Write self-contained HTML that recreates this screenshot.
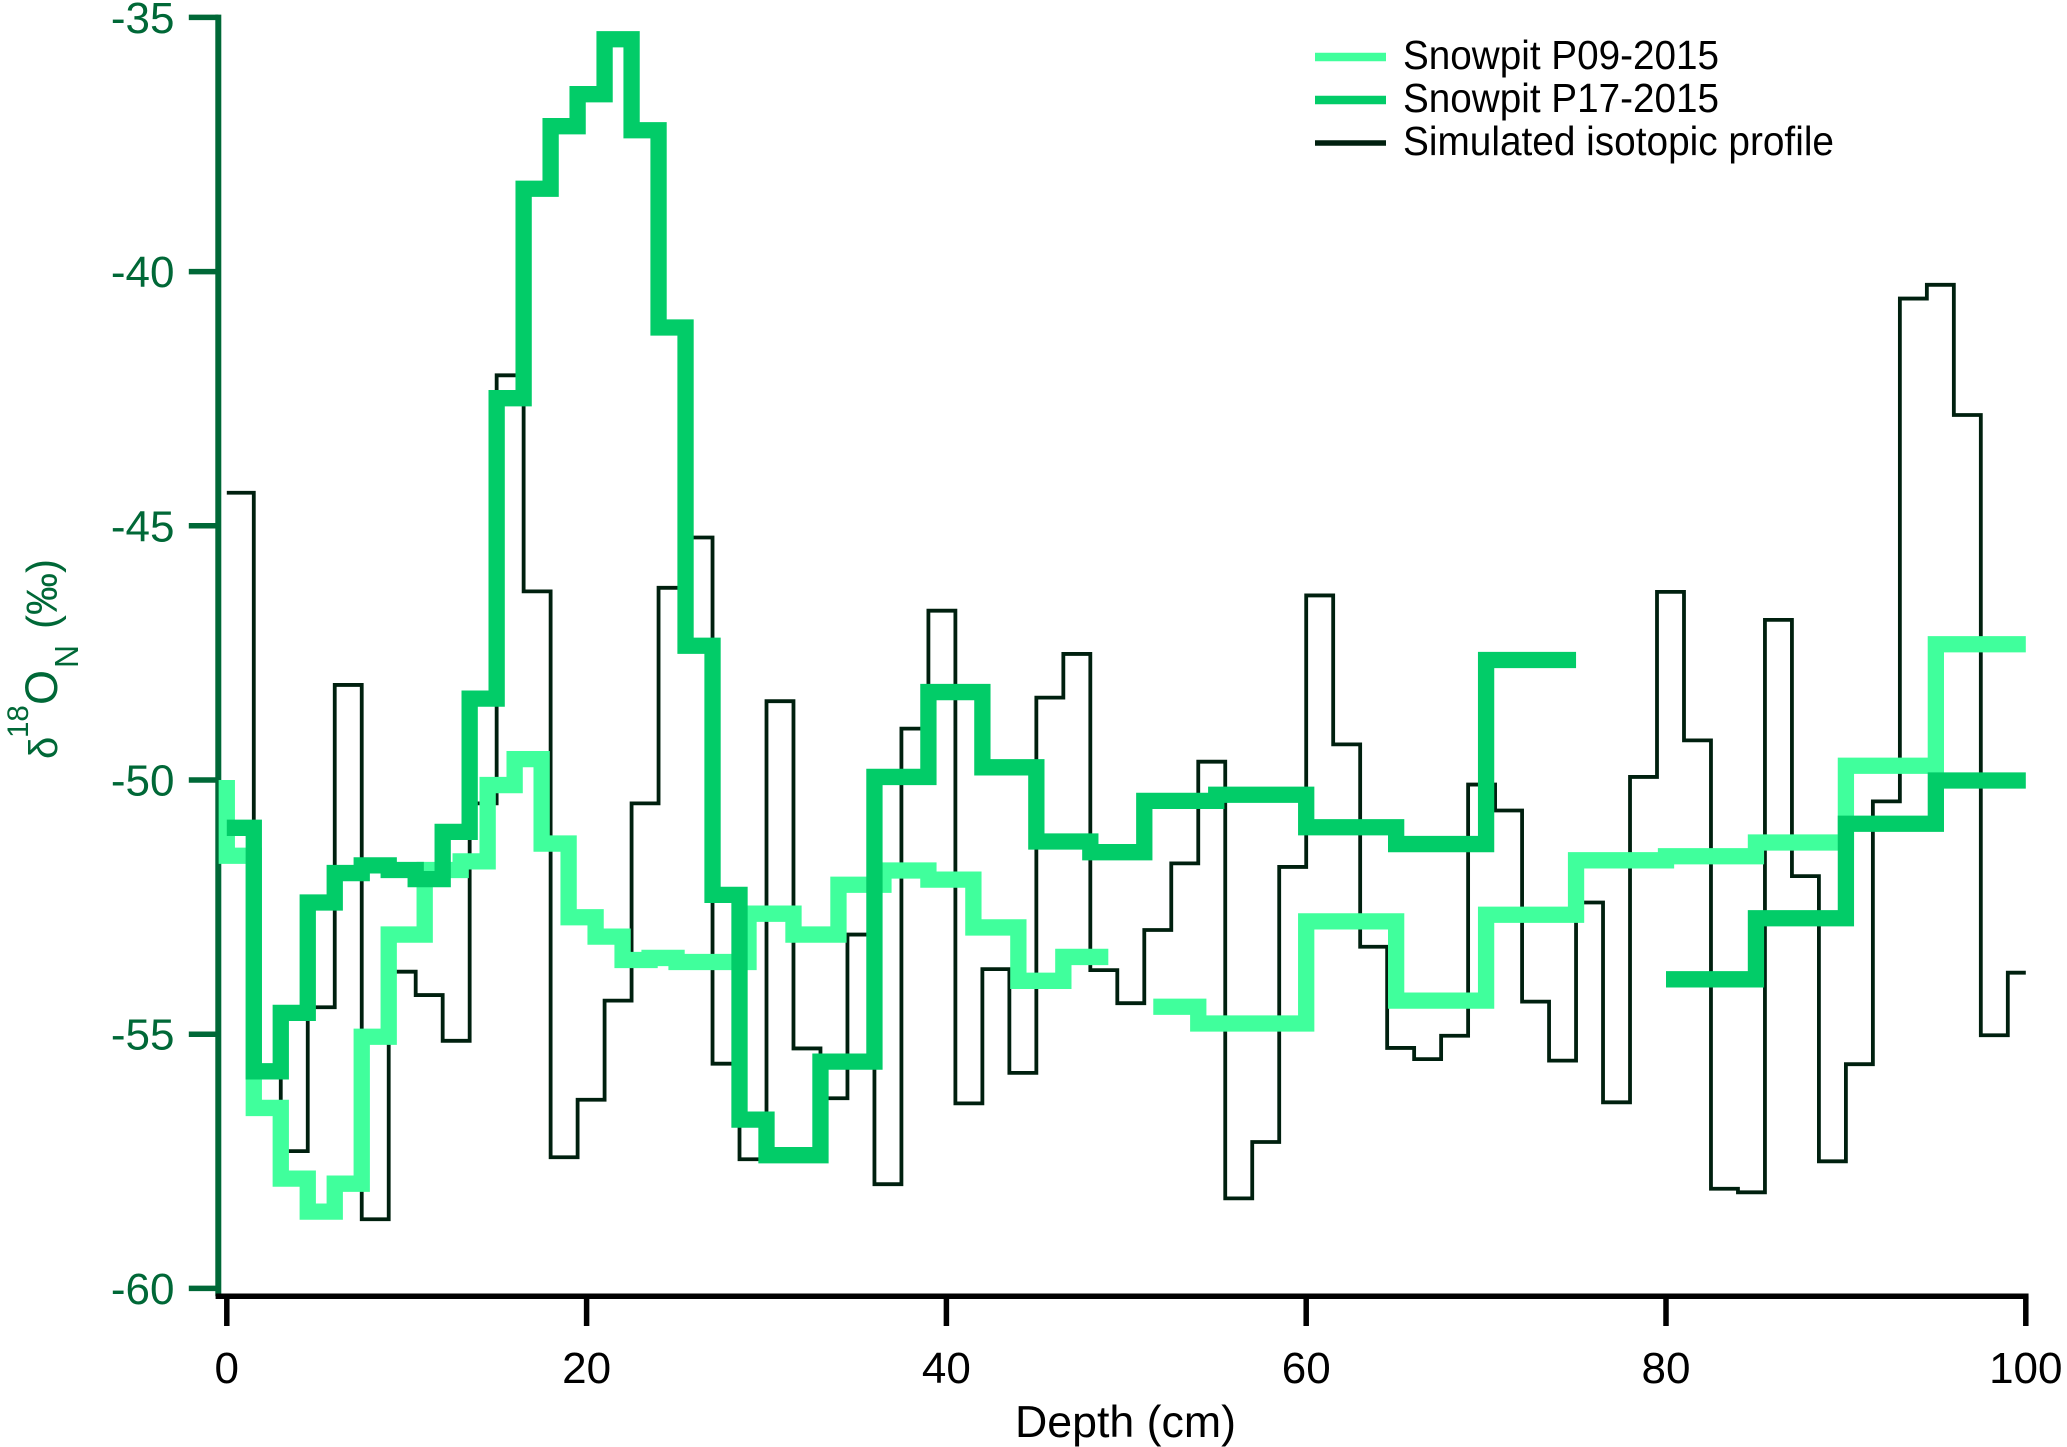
<!DOCTYPE html>
<html lang="en">
<head>
<meta charset="utf-8">
<title>Snowpit isotopic profiles</title>
<style>
html,body{margin:0;padding:0;background:#fff;}
svg{display:block;font-family:"Liberation Sans",Arial,sans-serif;}
</style>
</head>
<body>
<svg id="chart" xmlns="http://www.w3.org/2000/svg" width="2067" height="1447" viewBox="0 0 2067 1447">
  <rect x="0" y="0" width="2067" height="1447" fill="#ffffff"/>
  <g id="axes"></g>
  <g id="series"></g>

  <g fill="#006837">
    <text transform="translate(57,759) rotate(-90)" font-size="40">δ</text>
    <text transform="translate(28,738) rotate(-90)" font-size="29.5">18</text>
    <text transform="translate(57,705) rotate(-90)" font-size="45">O</text>
    <text transform="translate(78,668) rotate(-90)" font-size="33" textLength="23" lengthAdjust="spacingAndGlyphs">N</text>
    <text transform="translate(57,629) rotate(-90)" font-size="44" textLength="70" lengthAdjust="spacingAndGlyphs">(‰)</text>
  </g>
  <text x="1015" y="1437" font-size="44.5" fill="#000" textLength="221" lengthAdjust="spacingAndGlyphs">Depth (cm)</text>

  <g>
    <g>
      <line x1="1315" x2="1386" y1="57" y2="57" stroke="#40ff9c" stroke-width="8.5"/>
      <text x="1403" y="69" font-size="40.5" fill="#000" textLength="316" lengthAdjust="spacingAndGlyphs">Snowpit P09-2015</text>
    </g>
    <g>
      <line x1="1315" x2="1386" y1="100" y2="100" stroke="#02cc68" stroke-width="8.5"/>
      <text x="1403" y="112" font-size="40.5" fill="#000" textLength="316" lengthAdjust="spacingAndGlyphs">Snowpit P17-2015</text>
    </g>
    <g>
      <line x1="1315" x2="1386" y1="143" y2="143" stroke="#00200f" stroke-width="5.5"/>
      <text x="1403" y="155" font-size="40.5" fill="#000" textLength="431" lengthAdjust="spacingAndGlyphs">Simulated isotopic profile</text>
    </g>
  </g>
</svg>
<script>
// Axis tick values
var xTicks = [0, 20, 40, 60, 80, 100];
var yTicks = [-35, -40, -45, -50, -55, -60];

// Simulated isotopic profile: bin edges (cm) and bin values (permil)
var simEdges = [0,1.5,3,4.5,6,7.5,9,10.5,12,13.5,15,16.5,18,19.5,21,22.5,24,25.5,27,28.5,30,31.5,33,34.5,36,37.5,39,40.5,42,43.5,45,46.5,48,49.5,51,52.5,54,55.5,57,58.5,60,61.5,63,64.5,66,67.5,69,70.5,72,73.5,75,76.5,78,79.5,81,82.5,84,85.5,87,88.5,90,91.5,93,94.5,96,97.5,99,100];
var simValues = [-44.35,-55.75,-57.3,-54.47,-48.13,-58.64,-53.77,-54.23,-55.13,-50.46,-42.04,-46.29,-57.42,-56.29,-54.34,-50.46,-46.22,-45.23,-55.58,-57.46,-48.45,-55.28,-56.26,-53.04,-57.95,-48.99,-46.67,-56.36,-53.72,-55.76,-48.38,-47.52,-53.74,-54.39,-52.95,-51.64,-49.64,-58.23,-57.12,-51.71,-46.37,-49.3,-53.28,-55.27,-55.49,-55.03,-50.09,-50.6,-54.36,-55.52,-52.41,-56.34,-49.94,-46.3,-49.22,-58.04,-58.11,-46.85,-51.89,-57.5,-55.59,-50.42,-40.53,-40.26,-42.82,-55.02,-53.79];

// Snowpit P09-2015: bin edges and values (null = no data)
var p09Edges = [0,0,1.5,3,4.5,6,7.5,9,11,13,14.5,16,17.5,19,20.5,22,23.5,25,29,31.5,34,36.5,39,41.5,44,46.5,49,51.5,54,60,65,70,75,80,85,90,95,100];
var p09Values = [-50,-51.49,-56.45,-57.84,-58.49,-57.94,-55.05,-53.04,-51.77,-51.6,-50.1,-49.59,-51.25,-52.7,-53.08,-53.54,-53.5,-53.58,-52.63,-53.04,-52.06,-51.78,-51.96,-52.9,-53.95,-53.48,null,-54.46,-54.79,-52.78,-54.34,-52.65,-51.58,-51.5,-51.23,-49.72,-47.33];

// Snowpit P17-2015: bin edges and values (null = no data)
var p17Edges = [0,1.5,3,4.5,6,7.5,9,10.5,12,13.5,15,16.5,18,19.5,21,22.5,24,25.5,27,28.5,30,33,36,39,42,45,48,51,55,60,65,70,75,80,85,90,95,100];
var p17Values = [-50.94,-55.73,-54.58,-52.41,-51.83,-51.68,-51.77,-51.95,-51.02,-48.4,-42.49,-38.37,-37.14,-36.51,-35.43,-37.22,-41.1,-47.36,-52.26,-56.68,-57.38,-55.54,-49.94,-48.27,-49.75,-51.21,-51.42,-50.41,-50.29,-50.93,-51.26,-47.64,null,-53.92,-52.72,-50.86,-50.01];

var NS = 'http://www.w3.org/2000/svg';
var axesGroup = document.getElementById('axes');
var seriesGroup = document.getElementById('series');

function xScale(d) { return 226.8 + d * 17.99; }
function yScale(v) { return 17.4 + (-35 - v) * 50.84; }

function stepPath(edges, values) {
  var d = '';
  var penDown = false;
  for (var i = 0; i < values.length; i++) {
    if (values[i] === null) { penDown = false; continue; }
    var y = yScale(values[i]).toFixed(2);
    if (!penDown) {
      d += 'M' + xScale(edges[i]).toFixed(2) + ' ' + y;
      penDown = true;
    } else {
      d += 'V' + y;
    }
    if (edges[i + 1] !== edges[i]) {
      d += 'H' + xScale(edges[i + 1]).toFixed(2);
    }
  }
  return d;
}

function drawLine(x1, y1, x2, y2, color, width) {
  var l = document.createElementNS(NS, 'line');
  l.setAttribute('x1', x1);
  l.setAttribute('y1', y1);
  l.setAttribute('x2', x2);
  l.setAttribute('y2', y2);
  l.setAttribute('stroke', color);
  l.setAttribute('stroke-width', width);
  axesGroup.appendChild(l);
  return l;
}

function drawLabel(x, y, str, color, anchor) {
  var t = document.createElementNS(NS, 'text');
  t.setAttribute('x', x);
  t.setAttribute('y', y);
  t.setAttribute('fill', color);
  t.setAttribute('font-size', '44');
  t.setAttribute('text-anchor', anchor);
  t.textContent = str;
  axesGroup.appendChild(t);
  return t;
}

var yAxisColor = '#006837';
var axisBottom = 1296.3;

var yAxisLine = drawLine(218.3, yScale(-35) - 2.75, 218.3, axisBottom, yAxisColor, 6);



yTicks.forEach(function (v) {
  var tick = drawLine(188.8, yScale(v), 218.3, yScale(v), yAxisColor, 5.5);
  
  
  var label = drawLabel(174.5, yScale(v) + 15.5, String(v), yAxisColor, 'end');
  
  
});

var xAxisLine = drawLine(215.6, axisBottom, xScale(100) + 2.75, axisBottom, '#000', 5.5);



xTicks.forEach(function (d) {
  var tick = drawLine(xScale(d), axisBottom, xScale(d), 1326, '#000', 5.5);
  
  
  var label = drawLabel(xScale(d), 1383, String(d), '#000', 'middle');
  
  
});

var simPath = document.createElementNS(NS, 'path');
simPath.setAttribute('d', stepPath(simEdges, simValues));
simPath.setAttribute('fill', 'none');
simPath.setAttribute('stroke', '#00200f');
simPath.setAttribute('stroke-width', '3.8');
simPath.setAttribute('stroke-linejoin', 'miter');


seriesGroup.appendChild(simPath);

var p09Path = document.createElementNS(NS, 'path');
p09Path.setAttribute('d', stepPath(p09Edges, p09Values));
p09Path.setAttribute('fill', 'none');
p09Path.setAttribute('stroke', '#40ff9c');
p09Path.setAttribute('stroke-width', '16.3');
p09Path.setAttribute('stroke-linejoin', 'miter');


seriesGroup.appendChild(p09Path);

var p17Path = document.createElementNS(NS, 'path');
p17Path.setAttribute('d', stepPath(p17Edges, p17Values));
p17Path.setAttribute('fill', 'none');
p17Path.setAttribute('stroke', '#02cc68');
p17Path.setAttribute('stroke-width', '16.3');
p17Path.setAttribute('stroke-linejoin', 'miter');


seriesGroup.appendChild(p17Path);
</script>
</body>
</html>
